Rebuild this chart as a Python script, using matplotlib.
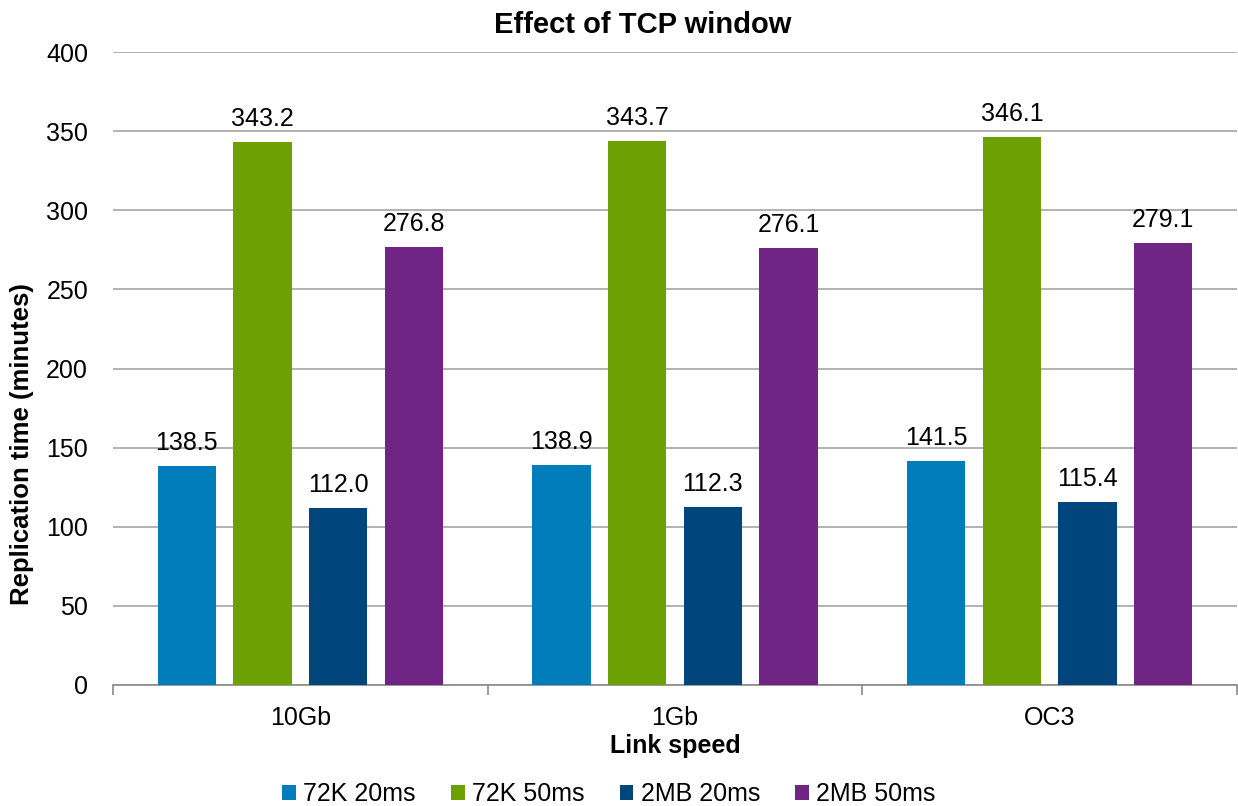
import matplotlib
matplotlib.use("Agg")
import matplotlib.pyplot as plt
import numpy as np

plt.rcParams['font.family'] = ['Liberation Sans', 'DejaVu Sans']

categories = ["10Gb", "1Gb", "OC3"]
series_names = ["72K 20ms", "72K 50ms", "2MB 20ms", "2MB 50ms"]
values = {
    "72K 20ms": [138.5, 138.9, 141.5],
    "72K 50ms": [343.2, 343.7, 346.1],
    "2MB 20ms": [112.0, 112.3, 115.4],
    "2MB 50ms": [276.8, 276.1, 279.1],
}
colors = ["#007DBA", "#6DA103", "#00467D", "#702585"]

FS = 18
fig = plt.figure(figsize=(12.38, 8.06), dpi=100)
ax = fig.add_axes([113/1238, 1-685/806, (1237-113)/1238, (685-52)/806])

x = np.arange(len(categories))
width = 0.156
step = 0.202
offsets = [-1.5*step, -0.5*step, 0.5*step, 1.5*step]
for name, off, c in zip(series_names, offsets, colors):
    bars = ax.bar(x + off, values[name], width, color=c, label=name, zorder=3)
    for b, v in zip(bars, values[name]):
        ax.text(b.get_x() + b.get_width()/2, v + 7, f"{v:.1f}", ha='center', va='bottom',
                fontsize=FS, color='#000000', zorder=4)

ax.set_xlim(-0.5, 2.5)
ax.set_ylim(0, 400)
ax.set_yticks(range(0, 401, 50))
ax.yaxis.grid(True, color='#A6A6A6', linewidth=1.2, zorder=0)
ax.set_axisbelow(True)
for s in ['top', 'right', 'left']:
    ax.spines[s].set_visible(False)
ax.spines['bottom'].set_color('#898989')
ax.spines['bottom'].set_linewidth(1.2)

ax.set_xticks([-0.5, 0.5, 1.5, 2.5], minor=False)
ax.set_xticklabels([])
ax.tick_params(axis='x', which='major', length=7, color='#898989', width=1.2)
ax.set_xticks(x, minor=True)
ax.set_xticklabels(categories, minor=True, fontsize=FS)
ax.tick_params(axis='x', which='minor', length=0, pad=15)
ax.tick_params(axis='y', length=0, labelsize=FS, pad=18)

fig.text(643/1238, 1 - 25/806, "Effect of TCP window", fontsize=21,
         fontweight='bold', ha='center', va='center')
fig.text(675/1238, 1 - 746/806, "Link speed", fontsize=FS,
         fontweight='bold', ha='center', va='center')
fig.text(22/1238, 1 - 444/806, "Replication time (minutes)", fontsize=18.5,
         fontweight='bold', ha='center', va='center', rotation=90)

fig.legend(*ax.get_legend_handles_labels(), loc='center', bbox_to_anchor=(609/1238, 1 - 794/806),
           ncol=4, frameon=False, fontsize=FS, handlelength=0.55, handleheight=0.55,
           handletextpad=0.3, columnspacing=1.4, borderpad=0)

fig.savefig("out.png", dpi=100)
